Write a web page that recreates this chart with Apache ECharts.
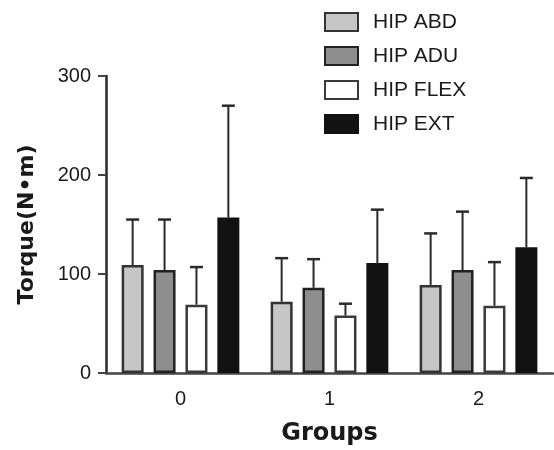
<!DOCTYPE html>
<html>
<head>
<meta charset="utf-8">
<script src="https://cdn.jsdelivr.net/npm/echarts@6/dist/echarts.min.js"></script>
<style>
html,body{margin:0;padding:0;background:#fff;}
#chart{width:554px;height:450px;}
</style>
</head>
<body>
<div id="chart"></div>
<script>
// 数据
var groups = ["0", "1", "2"];
var seriesNames = ["HIP ABD", "HIP ADU", "HIP FLEX", "HIP EXT"];
var abdMean = [109, 72, 89];
var abdSd = [46, 44, 52];
var aduMean = [104, 86, 104];
var aduSd = [51, 29, 59];
var flexMean = [69, 58, 68];
var flexSd = [38, 12, 44];
var extMean = [157, 111, 127];
var extSd = [113, 54, 70];
var yTicks = [0, 100, 200, 300];

var BAR_W = 22, BAR_GAP = 0.45;
var fills = ["#c6c6c6", "#8e8e8e", "#ffffff", "#121212"];
var borders = ["#333333", "#222222", "#3a3a3a", "#121212"];
var means = [abdMean, aduMean, flexMean, extMean];
var sds = [abdSd, aduSd, flexSd, extSd];

let chart = echarts.init(document.getElementById("chart"));

var series = [];
means.forEach((m, i) => {
    series.push({
        name: seriesNames[i],
        type: "bar",
        barWidth: BAR_W,
        barGap: (BAR_GAP * 100) + "%",
        itemStyle: {color: fills[i], borderColor: borders[i], borderWidth: 2.5},
        z: 2,
        data: m
    });
});
// 误差线
means.forEach((m, i) => {
    series.push({
        type: "custom",
        z: 3,
        silent: true,
        data: m.map((v, k) => [k, v, v + sds[i][k]]),
        renderItem: function (params, api) {
            var off = (i - 1.5) * BAR_W * (1 + BAR_GAP);
            var p0 = api.coord([api.value(0), api.value(1)]);
            var p1 = api.coord([api.value(0), api.value(2)]);
            var x = p0[0] + off;
            return {
                type: "group",
                children: [
                    {type: "line", shape: {x1: x, y1: p0[1], x2: x, y2: p1[1]}, style: {stroke: "#2a2a2a", lineWidth: 2}},
                    {type: "line", shape: {x1: x - 6.5, y1: p1[1], x2: x + 6.5, y2: p1[1]}, style: {stroke: "#2a2a2a", lineWidth: 2.5}}
                ]
            };
        }
    });
});

var option = {
    animation: false,
    textStyle: {fontFamily: "Liberation Sans"},
    grid: {left: 106, right: 1, top: 76, bottom: 77, containLabel: false, outerBoundsMode: "none"},
    legend: {
        orient: "vertical",
        left: 319,
        top: 6,
        icon: "rect",
        itemWidth: 33,
        itemHeight: 18,
        itemGap: 12,
        data: seriesNames,
        textStyle: {fontSize: 21, lineHeight: 18, color: "#1a1a1a", padding: [0, 0, 4, 10]}
    },
    xAxis: {
        type: "category",
        data: groups,
        name: "Groups",
        nameLocation: "middle",
        nameGap: 49,
        nameTextStyle: {fontSize: 24, fontWeight: "bold", color: "#1a1a1a", fontFamily: "DejaVu Sans"},
        axisLine: {lineStyle: {color: "#444", width: 2.5}},
        axisTick: {alignWithLabel: true, length: 8, lineStyle: {color: "#555", width: 2}},
        axisLabel: {fontSize: 20, color: "#1a1a1a", margin: 16}
    },
    yAxis: {
        type: "value",
        min: yTicks[0],
        max: yTicks[yTicks.length - 1],
        interval: 100,
        name: "Torque(N•m)",
        nameLocation: "middle",
        nameGap: 68,
        nameTextStyle: {fontSize: 22, fontWeight: "bold", color: "#1a1a1a", fontFamily: "DejaVu Sans"},
        axisLine: {show: true, lineStyle: {color: "#2a2a2a", width: 2.5}},
        axisTick: {show: true, length: 8, lineStyle: {color: "#444", width: 2}},
        axisLabel: {fontSize: 20, color: "#1a1a1a", margin: 15},
        splitLine: {show: false}
    },
    series: series
};
chart.setOption(option);
</script>
</body>
</html>
